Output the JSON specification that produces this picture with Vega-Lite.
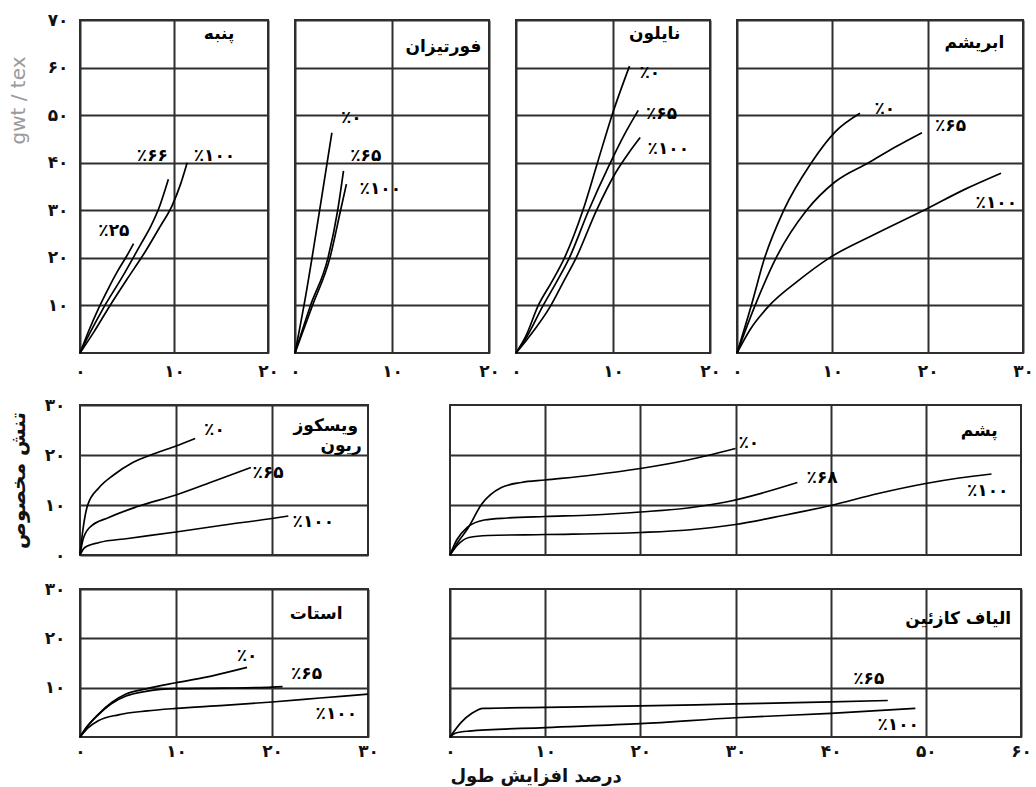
{
  "$schema": "https://vega.github.io/schema/vega-lite/v6.json",
  "padding": {"left": 7, "top": 10, "right": 0, "bottom": 0},
  "spacing": 15,
  "datasets": {
    "curves": [
      {"p":"cotton","s":"25","x":0,"y":0},{"p":"cotton","s":"25","x":1,"y":5},{"p":"cotton","s":"25","x":2,"y":9.5},{"p":"cotton","s":"25","x":3,"y":13.5},{"p":"cotton","s":"25","x":4,"y":17.2},{"p":"cotton","s":"25","x":5,"y":20.5},{"p":"cotton","s":"25","x":5.7,"y":23},
      {"p":"cotton","s":"66","x":0,"y":0},{"p":"cotton","s":"66","x":1,"y":4},{"p":"cotton","s":"66","x":2.5,"y":9.5},{"p":"cotton","s":"66","x":4.5,"y":16},{"p":"cotton","s":"66","x":6.5,"y":23},{"p":"cotton","s":"66","x":7.5,"y":26.5},{"p":"cotton","s":"66","x":8.5,"y":31},{"p":"cotton","s":"66","x":9.4,"y":36.5},
      {"p":"cotton","s":"100","x":0,"y":0},{"p":"cotton","s":"100","x":1.5,"y":4.5},{"p":"cotton","s":"100","x":3.2,"y":10},{"p":"cotton","s":"100","x":5,"y":15.5},{"p":"cotton","s":"100","x":7,"y":21.5},{"p":"cotton","s":"100","x":8.5,"y":26.5},{"p":"cotton","s":"100","x":9.8,"y":31},{"p":"cotton","s":"100","x":10.7,"y":35.5},{"p":"cotton","s":"100","x":11.4,"y":40},
      {"p":"fortisan","s":"0","x":0,"y":0},{"p":"fortisan","s":"0","x":1.1,"y":12},{"p":"fortisan","s":"0","x":2.5,"y":29.5},{"p":"fortisan","s":"0","x":3.8,"y":46.3},
      {"p":"fortisan","s":"65","x":0,"y":0},{"p":"fortisan","s":"65","x":1.6,"y":10},{"p":"fortisan","s":"65","x":3.4,"y":20},{"p":"fortisan","s":"65","x":4.4,"y":30},{"p":"fortisan","s":"65","x":5.0,"y":38.3},
      {"p":"fortisan","s":"100","x":0,"y":0},{"p":"fortisan","s":"100","x":1.8,"y":10},{"p":"fortisan","s":"100","x":3.6,"y":20},{"p":"fortisan","s":"100","x":4.7,"y":30},{"p":"fortisan","s":"100","x":5.3,"y":35.5},
      {"p":"nylon","s":"0","x":0,"y":0},{"p":"nylon","s":"0","x":1,"y":3.5},{"p":"nylon","s":"0","x":2.3,"y":10},{"p":"nylon","s":"0","x":3.7,"y":15},{"p":"nylon","s":"0","x":5,"y":20},{"p":"nylon","s":"0","x":6.9,"y":30},{"p":"nylon","s":"0","x":8.4,"y":40},{"p":"nylon","s":"0","x":9.9,"y":50},{"p":"nylon","s":"0","x":11.7,"y":60.3},
      {"p":"nylon","s":"65","x":0,"y":0},{"p":"nylon","s":"65","x":1,"y":3},{"p":"nylon","s":"65","x":2.8,"y":10},{"p":"nylon","s":"65","x":4.2,"y":15},{"p":"nylon","s":"65","x":5.5,"y":20},{"p":"nylon","s":"65","x":7.5,"y":30},{"p":"nylon","s":"65","x":9.5,"y":39},{"p":"nylon","s":"65","x":11.2,"y":46},{"p":"nylon","s":"65","x":12.6,"y":51},
      {"p":"nylon","s":"100","x":0,"y":0},{"p":"nylon","s":"100","x":1.2,"y":3},{"p":"nylon","s":"100","x":3.6,"y":10},{"p":"nylon","s":"100","x":4.9,"y":15},{"p":"nylon","s":"100","x":6.2,"y":20},{"p":"nylon","s":"100","x":8.3,"y":30},{"p":"nylon","s":"100","x":10.3,"y":38},{"p":"nylon","s":"100","x":11.6,"y":42},{"p":"nylon","s":"100","x":12.8,"y":45.3},
      {"p":"silk","s":"0","x":0,"y":0},{"p":"silk","s":"0","x":1.5,"y":10},{"p":"silk","s":"0","x":2.9,"y":20},{"p":"silk","s":"0","x":4.9,"y":30},{"p":"silk","s":"0","x":7.8,"y":40},{"p":"silk","s":"0","x":10.3,"y":46.5},{"p":"silk","s":"0","x":12.9,"y":50.4},
      {"p":"silk","s":"65","x":0,"y":0},{"p":"silk","s":"65","x":1.9,"y":10},{"p":"silk","s":"65","x":4.1,"y":20},{"p":"silk","s":"65","x":7.3,"y":30},{"p":"silk","s":"65","x":10.3,"y":36},{"p":"silk","s":"65","x":13.8,"y":40},{"p":"silk","s":"65","x":16.8,"y":43.5},{"p":"silk","s":"65","x":19.4,"y":46.3},
      {"p":"silk","s":"100","x":0,"y":0},{"p":"silk","s":"100","x":1.4,"y":5},{"p":"silk","s":"100","x":3.4,"y":10},{"p":"silk","s":"100","x":6.3,"y":15},{"p":"silk","s":"100","x":9.7,"y":20},{"p":"silk","s":"100","x":14.5,"y":25},{"p":"silk","s":"100","x":19.6,"y":30},{"p":"silk","s":"100","x":24,"y":34.5},{"p":"silk","s":"100","x":27.7,"y":37.8},
      {"p":"viscose","s":"0","x":0,"y":0},{"p":"viscose","s":"0","x":0.3,"y":5},{"p":"viscose","s":"0","x":0.8,"y":10},{"p":"viscose","s":"0","x":2,"y":13.5},{"p":"viscose","s":"0","x":3.5,"y":16},{"p":"viscose","s":"0","x":5.5,"y":18.5},{"p":"viscose","s":"0","x":7.8,"y":20.3},{"p":"viscose","s":"0","x":10,"y":21.8},{"p":"viscose","s":"0","x":12,"y":23.3},
      {"p":"viscose","s":"65","x":0,"y":0},{"p":"viscose","s":"65","x":0.3,"y":3},{"p":"viscose","s":"65","x":1,"y":5.5},{"p":"viscose","s":"65","x":3,"y":7.5},{"p":"viscose","s":"65","x":6,"y":9.7},{"p":"viscose","s":"65","x":10,"y":12},{"p":"viscose","s":"65","x":14,"y":14.8},{"p":"viscose","s":"65","x":17.8,"y":17.5},
      {"p":"viscose","s":"100","x":0,"y":0},{"p":"viscose","s":"100","x":0.5,"y":1.5},{"p":"viscose","s":"100","x":2,"y":2.5},{"p":"viscose","s":"100","x":5,"y":3.3},{"p":"viscose","s":"100","x":10,"y":4.6},{"p":"viscose","s":"100","x":15,"y":6},{"p":"viscose","s":"100","x":20,"y":7.3},{"p":"viscose","s":"100","x":21.7,"y":7.8},
      {"p":"wool","s":"0","x":0,"y":0},{"p":"wool","s":"0","x":0.8,"y":2.5},{"p":"wool","s":"0","x":1.9,"y":5.4},{"p":"wool","s":"0","x":3.3,"y":10.1},{"p":"wool","s":"0","x":5.4,"y":13.5},{"p":"wool","s":"0","x":7.5,"y":14.5},{"p":"wool","s":"0","x":10,"y":15},{"p":"wool","s":"0","x":15,"y":16},{"p":"wool","s":"0","x":20,"y":17.3},{"p":"wool","s":"0","x":25,"y":19},{"p":"wool","s":"0","x":30,"y":21.3},
      {"p":"wool","s":"68","x":0,"y":0},{"p":"wool","s":"68","x":0.7,"y":3},{"p":"wool","s":"68","x":1.8,"y":5.5},{"p":"wool","s":"68","x":3.6,"y":7},{"p":"wool","s":"68","x":6,"y":7.4},{"p":"wool","s":"68","x":10,"y":7.7},{"p":"wool","s":"68","x":15,"y":8},{"p":"wool","s":"68","x":20,"y":8.6},{"p":"wool","s":"68","x":25,"y":9.4},{"p":"wool","s":"68","x":29,"y":10.6},{"p":"wool","s":"68","x":33,"y":12.5},{"p":"wool","s":"68","x":36.5,"y":14.5},
      {"p":"wool","s":"100","x":0,"y":0},{"p":"wool","s":"100","x":0.8,"y":2},{"p":"wool","s":"100","x":2,"y":3.5},{"p":"wool","s":"100","x":4,"y":3.9},{"p":"wool","s":"100","x":10,"y":4.1},{"p":"wool","s":"100","x":20,"y":4.5},{"p":"wool","s":"100","x":25,"y":5},{"p":"wool","s":"100","x":30,"y":6.1},{"p":"wool","s":"100","x":35,"y":7.9},{"p":"wool","s":"100","x":40,"y":9.9},{"p":"wool","s":"100","x":45,"y":12.3},{"p":"wool","s":"100","x":50,"y":14.3},{"p":"wool","s":"100","x":53.5,"y":15.4},{"p":"wool","s":"100","x":56.9,"y":16.2},
      {"p":"acetate","s":"0","x":0,"y":0},{"p":"acetate","s":"0","x":0.7,"y":2},{"p":"acetate","s":"0","x":1.9,"y":4.6},{"p":"acetate","s":"0","x":3.3,"y":7},{"p":"acetate","s":"0","x":4.8,"y":8.7},{"p":"acetate","s":"0","x":7,"y":9.8},{"p":"acetate","s":"0","x":10,"y":11},{"p":"acetate","s":"0","x":14,"y":12.5},{"p":"acetate","s":"0","x":17.4,"y":14.1},
      {"p":"acetate","s":"65","x":0,"y":0},{"p":"acetate","s":"65","x":0.7,"y":2},{"p":"acetate","s":"65","x":1.9,"y":4.5},{"p":"acetate","s":"65","x":3.3,"y":6.8},{"p":"acetate","s":"65","x":4.8,"y":8.3},{"p":"acetate","s":"65","x":7,"y":9.3},{"p":"acetate","s":"65","x":10,"y":9.8},{"p":"acetate","s":"65","x":15,"y":9.9},{"p":"acetate","s":"65","x":20,"y":10.1},{"p":"acetate","s":"65","x":21.1,"y":10.2},
      {"p":"acetate","s":"100","x":0,"y":0},{"p":"acetate","s":"100","x":0.8,"y":1.8},{"p":"acetate","s":"100","x":1.9,"y":3.3},{"p":"acetate","s":"100","x":4,"y":4.5},{"p":"acetate","s":"100","x":7,"y":5.3},{"p":"acetate","s":"100","x":10,"y":5.8},{"p":"acetate","s":"100","x":15,"y":6.4},{"p":"acetate","s":"100","x":20,"y":7.1},{"p":"acetate","s":"100","x":25,"y":7.9},{"p":"acetate","s":"100","x":30,"y":8.7},
      {"p":"casein","s":"65","x":0,"y":0},{"p":"casein","s":"65","x":1.2,"y":3},{"p":"casein","s":"65","x":2.3,"y":4.8},{"p":"casein","s":"65","x":3.5,"y":5.8},{"p":"casein","s":"65","x":10,"y":6.0},{"p":"casein","s":"65","x":20,"y":6.3},{"p":"casein","s":"65","x":30,"y":6.7},{"p":"casein","s":"65","x":40,"y":7.1},{"p":"casein","s":"65","x":46,"y":7.4},
      {"p":"casein","s":"100","x":0,"y":0},{"p":"casein","s":"100","x":0.6,"y":0.8},{"p":"casein","s":"100","x":2,"y":1.2},{"p":"casein","s":"100","x":10,"y":1.9},{"p":"casein","s":"100","x":20,"y":2.7},{"p":"casein","s":"100","x":30,"y":3.9},{"p":"casein","s":"100","x":40,"y":4.8},{"p":"casein","s":"100","x":48.9,"y":5.8}
    ],
    "labels": [
      {"p":"cotton","x":14.8,"y":67,"t":"پنبه"},{"p":"cotton","x":3.6,"y":25.6,"t":"٪۲۵"},{"p":"cotton","x":7.7,"y":41.4,"t":"٪۶۶"},{"p":"cotton","x":14.3,"y":41.4,"t":"٪۱۰۰"},
      {"p":"fortisan","x":15.3,"y":64.4,"t":"فورتیزان"},{"p":"fortisan","x":5.8,"y":49.4,"t":"٪۰"},{"p":"fortisan","x":7.3,"y":41.4,"t":"٪۶۵"},{"p":"fortisan","x":8.8,"y":34.4,"t":"٪۱۰۰"},
      {"p":"nylon","x":14.3,"y":67,"t":"نایلون"},{"p":"nylon","x":13.8,"y":58.9,"t":"٪۰"},{"p":"nylon","x":15,"y":50.2,"t":"٪۶۵"},{"p":"nylon","x":15.7,"y":42.9,"t":"٪۱۰۰"},
      {"p":"silk","x":24.9,"y":65.2,"t":"ابریشم"},{"p":"silk","x":15.5,"y":51.2,"t":"٪۰"},{"p":"silk","x":22.4,"y":47.7,"t":"٪۶۵"},{"p":"silk","x":27.2,"y":31.6,"t":"٪۱۰۰"},
      {"p":"viscose","x":25.6,"y":25.8,"t":"ویسکوز"},{"p":"viscose","x":27.2,"y":21.9,"t":"ریون"},{"p":"viscose","x":14,"y":25,"t":"٪۰"},{"p":"viscose","x":19.6,"y":16.5,"t":"٪۶۵"},{"p":"viscose","x":24.3,"y":6.6,"t":"٪۱۰۰"},
      {"p":"wool","x":55.6,"y":24.8,"t":"پشم"},{"p":"wool","x":31.4,"y":22.5,"t":"٪۰"},{"p":"wool","x":39.1,"y":15.5,"t":"٪۶۸"},{"p":"wool","x":56.5,"y":12.8,"t":"٪۱۰۰"},
      {"p":"acetate","x":24.6,"y":25,"t":"استات"},{"p":"acetate","x":17.4,"y":16.5,"t":"٪۰"},{"p":"acetate","x":23.6,"y":12.8,"t":"٪۶۵"},{"p":"acetate","x":26.7,"y":4.7,"t":"٪۱۰۰"},
      {"p":"casein","x":53.4,"y":24,"t":"الیاف کازئین"},{"p":"casein","x":44,"y":11.8,"t":"٪۶۵"},{"p":"casein","x":47.1,"y":2.4,"t":"٪۱۰۰"}
    ]
  },
  "vconcat": [
    {
      "bounds": "flush",
      "spacing": 27,
      "hconcat": [
        {
          "width": 188, "height": 333,
          "encoding": {
            "x": {"field": "x", "type": "quantitative", "scale": {"domain": [0, 20], "nice": false}, "axis": {"values": [0, 10, 20], "title": null, "labelPadding": 10, "labelExpr": "['۰','۱۰','۲۰','۳۰','۴۰','۵۰','۶۰','۷۰'][datum.value/10]"}},
            "y": {"field": "y", "type": "quantitative", "scale": {"domain": [0, 70], "nice": false}, "axis": {"values": [10, 20, 30, 40, 50, 60, 70], "labelExpr": "['۰','۱۰','۲۰','۳۰','۴۰','۵۰','۶۰','۷۰'][datum.value/10]", "labelPadding": 12, "minExtent": 40, "maxExtent": 40, "title": "gwt / tex", "titleFont": "DejaVu Sans", "titleFontWeight": "normal", "titleColor": "#9a9a9a", "titleFontSize": 20, "titlePadding": 12, "titleY": 80}}
          },
          "layer": [
            {"data": {"name": "curves"}, "transform": [{"filter": "datum.p == 'cotton'"}], "mark": {"type": "line", "color": "#000", "strokeWidth": 1.7, "interpolate": "monotone"}, "encoding": {"detail": {"field": "s"}}},
            {"data": {"name": "labels"}, "transform": [{"filter": "datum.p == 'cotton'"}], "mark": {"type": "text", "fontSize": 17, "fontWeight": "bold", "color": "#000"}, "encoding": {"text": {"field": "t"}}}
          ]
        },
        {
          "width": 194, "height": 333,
          "encoding": {
            "x": {"field": "x", "type": "quantitative", "scale": {"domain": [0, 20], "nice": false}, "axis": {"values": [0, 10, 20], "title": null, "labelPadding": 10, "labelExpr": "['۰','۱۰','۲۰','۳۰','۴۰','۵۰','۶۰','۷۰'][datum.value/10]"}},
            "y": {"field": "y", "type": "quantitative", "scale": {"domain": [0, 70], "nice": false}, "axis": {"values": [10, 20, 30, 40, 50, 60, 70], "labels": false, "title": null}}
          },
          "layer": [
            {"data": {"name": "curves"}, "transform": [{"filter": "datum.p == 'fortisan'"}], "mark": {"type": "line", "color": "#000", "strokeWidth": 1.7, "interpolate": "monotone"}, "encoding": {"detail": {"field": "s"}}},
            {"data": {"name": "labels"}, "transform": [{"filter": "datum.p == 'fortisan'"}], "mark": {"type": "text", "fontSize": 17, "fontWeight": "bold", "color": "#000"}, "encoding": {"text": {"field": "t"}}}
          ]
        },
        {
          "width": 194, "height": 333,
          "encoding": {
            "x": {"field": "x", "type": "quantitative", "scale": {"domain": [0, 20], "nice": false}, "axis": {"values": [0, 10, 20], "title": null, "labelPadding": 10, "labelExpr": "['۰','۱۰','۲۰','۳۰','۴۰','۵۰','۶۰','۷۰'][datum.value/10]"}},
            "y": {"field": "y", "type": "quantitative", "scale": {"domain": [0, 70], "nice": false}, "axis": {"values": [10, 20, 30, 40, 50, 60, 70], "labels": false, "title": null}}
          },
          "layer": [
            {"data": {"name": "curves"}, "transform": [{"filter": "datum.p == 'nylon'"}], "mark": {"type": "line", "color": "#000", "strokeWidth": 1.7, "interpolate": "monotone"}, "encoding": {"detail": {"field": "s"}}},
            {"data": {"name": "labels"}, "transform": [{"filter": "datum.p == 'nylon'"}], "mark": {"type": "text", "fontSize": 17, "fontWeight": "bold", "color": "#000"}, "encoding": {"text": {"field": "t"}}}
          ]
        },
        {
          "width": 286, "height": 333,
          "encoding": {
            "x": {"field": "x", "type": "quantitative", "scale": {"domain": [0, 30], "nice": false}, "axis": {"values": [0, 10, 20, 30], "title": null, "labelPadding": 10, "labelExpr": "['۰','۱۰','۲۰','۳۰','۴۰','۵۰','۶۰','۷۰'][datum.value/10]"}},
            "y": {"field": "y", "type": "quantitative", "scale": {"domain": [0, 70], "nice": false}, "axis": {"values": [10, 20, 30, 40, 50, 60, 70], "labels": false, "title": null}}
          },
          "layer": [
            {"data": {"name": "curves"}, "transform": [{"filter": "datum.p == 'silk'"}], "mark": {"type": "line", "color": "#000", "strokeWidth": 1.7, "interpolate": "monotone"}, "encoding": {"detail": {"field": "s"}}},
            {"data": {"name": "labels"}, "transform": [{"filter": "datum.p == 'silk'"}], "mark": {"type": "text", "fontSize": 17, "fontWeight": "bold", "color": "#000"}, "encoding": {"text": {"field": "t"}}}
          ]
        }
      ]
    },
    {
      "bounds": "flush",
      "spacing": 82,
      "hconcat": [
        {
          "width": 288, "height": 150,
          "encoding": {
            "x": {"field": "x", "type": "quantitative", "scale": {"domain": [0, 30], "nice": false}, "axis": {"values": [10, 20], "labels": false, "title": null}},
            "y": {"field": "y", "type": "quantitative", "scale": {"domain": [0, 30], "nice": false}, "axis": {"values": [0, 10, 20, 30], "labelExpr": "['۰','۱۰','۲۰','۳۰','۴۰','۵۰','۶۰','۷۰'][datum.value/10]", "labelPadding": 15, "minExtent": 40, "maxExtent": 40, "title": "تنش مخصوص", "titleFontSize": 20, "titlePadding": 12}}
          },
          "layer": [
            {"data": {"name": "curves"}, "transform": [{"filter": "datum.p == 'viscose'"}], "mark": {"type": "line", "color": "#000", "strokeWidth": 1.7, "interpolate": "monotone"}, "encoding": {"detail": {"field": "s"}}},
            {"data": {"name": "labels"}, "transform": [{"filter": "datum.p == 'viscose'"}], "mark": {"type": "text", "fontSize": 17, "fontWeight": "bold", "color": "#000"}, "encoding": {"text": {"field": "t"}}}
          ]
        },
        {
          "width": 571, "height": 150,
          "encoding": {
            "x": {"field": "x", "type": "quantitative", "scale": {"domain": [0, 60], "nice": false}, "axis": {"values": [10, 20, 30, 40, 50], "labels": false, "title": null}},
            "y": {"field": "y", "type": "quantitative", "scale": {"domain": [0, 30], "nice": false}, "axis": {"values": [10, 20], "labels": false, "title": null}}
          },
          "layer": [
            {"data": {"name": "curves"}, "transform": [{"filter": "datum.p == 'wool'"}], "mark": {"type": "line", "color": "#000", "strokeWidth": 1.7, "interpolate": "monotone"}, "encoding": {"detail": {"field": "s"}}},
            {"data": {"name": "labels"}, "transform": [{"filter": "datum.p == 'wool'"}], "mark": {"type": "text", "fontSize": 17, "fontWeight": "bold", "color": "#000"}, "encoding": {"text": {"field": "t"}}}
          ]
        }
      ]
    },
    {
      "bounds": "flush",
      "spacing": 82,
      "hconcat": [
        {
          "width": 288, "height": 148,
          "encoding": {
            "x": {"field": "x", "type": "quantitative", "scale": {"domain": [0, 30], "nice": false}, "axis": {"values": [0, 10, 20, 30], "title": null, "labelPadding": 6, "labelExpr": "['۰','۱۰','۲۰','۳۰','۴۰','۵۰','۶۰','۷۰'][datum.value/10]"}},
            "y": {"field": "y", "type": "quantitative", "scale": {"domain": [0, 30], "nice": false}, "axis": {"values": [10, 20, 30], "labelExpr": "['۰','۱۰','۲۰','۳۰','۴۰','۵۰','۶۰','۷۰'][datum.value/10]", "labelPadding": 15, "minExtent": 40, "maxExtent": 40, "title": " ", "titleFontSize": 20, "titlePadding": 12}}
          },
          "layer": [
            {"data": {"name": "curves"}, "transform": [{"filter": "datum.p == 'acetate'"}], "mark": {"type": "line", "color": "#000", "strokeWidth": 1.7, "interpolate": "monotone"}, "encoding": {"detail": {"field": "s"}}},
            {"data": {"name": "labels"}, "transform": [{"filter": "datum.p == 'acetate'"}], "mark": {"type": "text", "fontSize": 17, "fontWeight": "bold", "color": "#000"}, "encoding": {"text": {"field": "t"}}}
          ]
        },
        {
          "width": 571, "height": 148,
          "encoding": {
            "x": {"field": "x", "type": "quantitative", "scale": {"domain": [0, 60], "nice": false}, "axis": {"values": [0, 10, 20, 30, 40, 50, 60], "labelPadding": 6, "labelExpr": "['۰','۱۰','۲۰','۳۰','۴۰','۵۰','۶۰','۷۰'][datum.value/10]", "title": "درصد افزایش طول", "titleAnchor": "start", "titleFontSize": 18, "titlePadding": 8}},
            "y": {"field": "y", "type": "quantitative", "scale": {"domain": [0, 30], "nice": false}, "axis": {"values": [10, 20], "labels": false, "title": null}}
          },
          "layer": [
            {"data": {"name": "curves"}, "transform": [{"filter": "datum.p == 'casein'"}], "mark": {"type": "line", "color": "#000", "strokeWidth": 1.7, "interpolate": "monotone"}, "encoding": {"detail": {"field": "s"}}},
            {"data": {"name": "labels"}, "transform": [{"filter": "datum.p == 'casein'"}], "mark": {"type": "text", "fontSize": 17, "fontWeight": "bold", "color": "#000"}, "encoding": {"text": {"field": "t"}}}
          ]
        }
      ]
    }
  ],
  "config": {
    "view": {"stroke": "#2e2e2e", "strokeWidth": 2},
    "font": "DejaVu Sans",
    "axis": {
      "grid": true,
      "gridColor": "#2e2e2e",
      "gridWidth": 2,
      "gridOpacity": 1,
      "ticks": false,
      "domain": false,
      "labelFont": "DejaVu Sans",
      "labelFontSize": 17,
      "labelFontWeight": "bold",
      "labelColor": "#111",
      "labelFlush": false,
      "labelOverlap": false,
      "titleFont": "DejaVu Sans",
      "titleFontWeight": "bold",
      "titleColor": "#111"
    },
    "text": {"font": "DejaVu Sans"}
  }
}
